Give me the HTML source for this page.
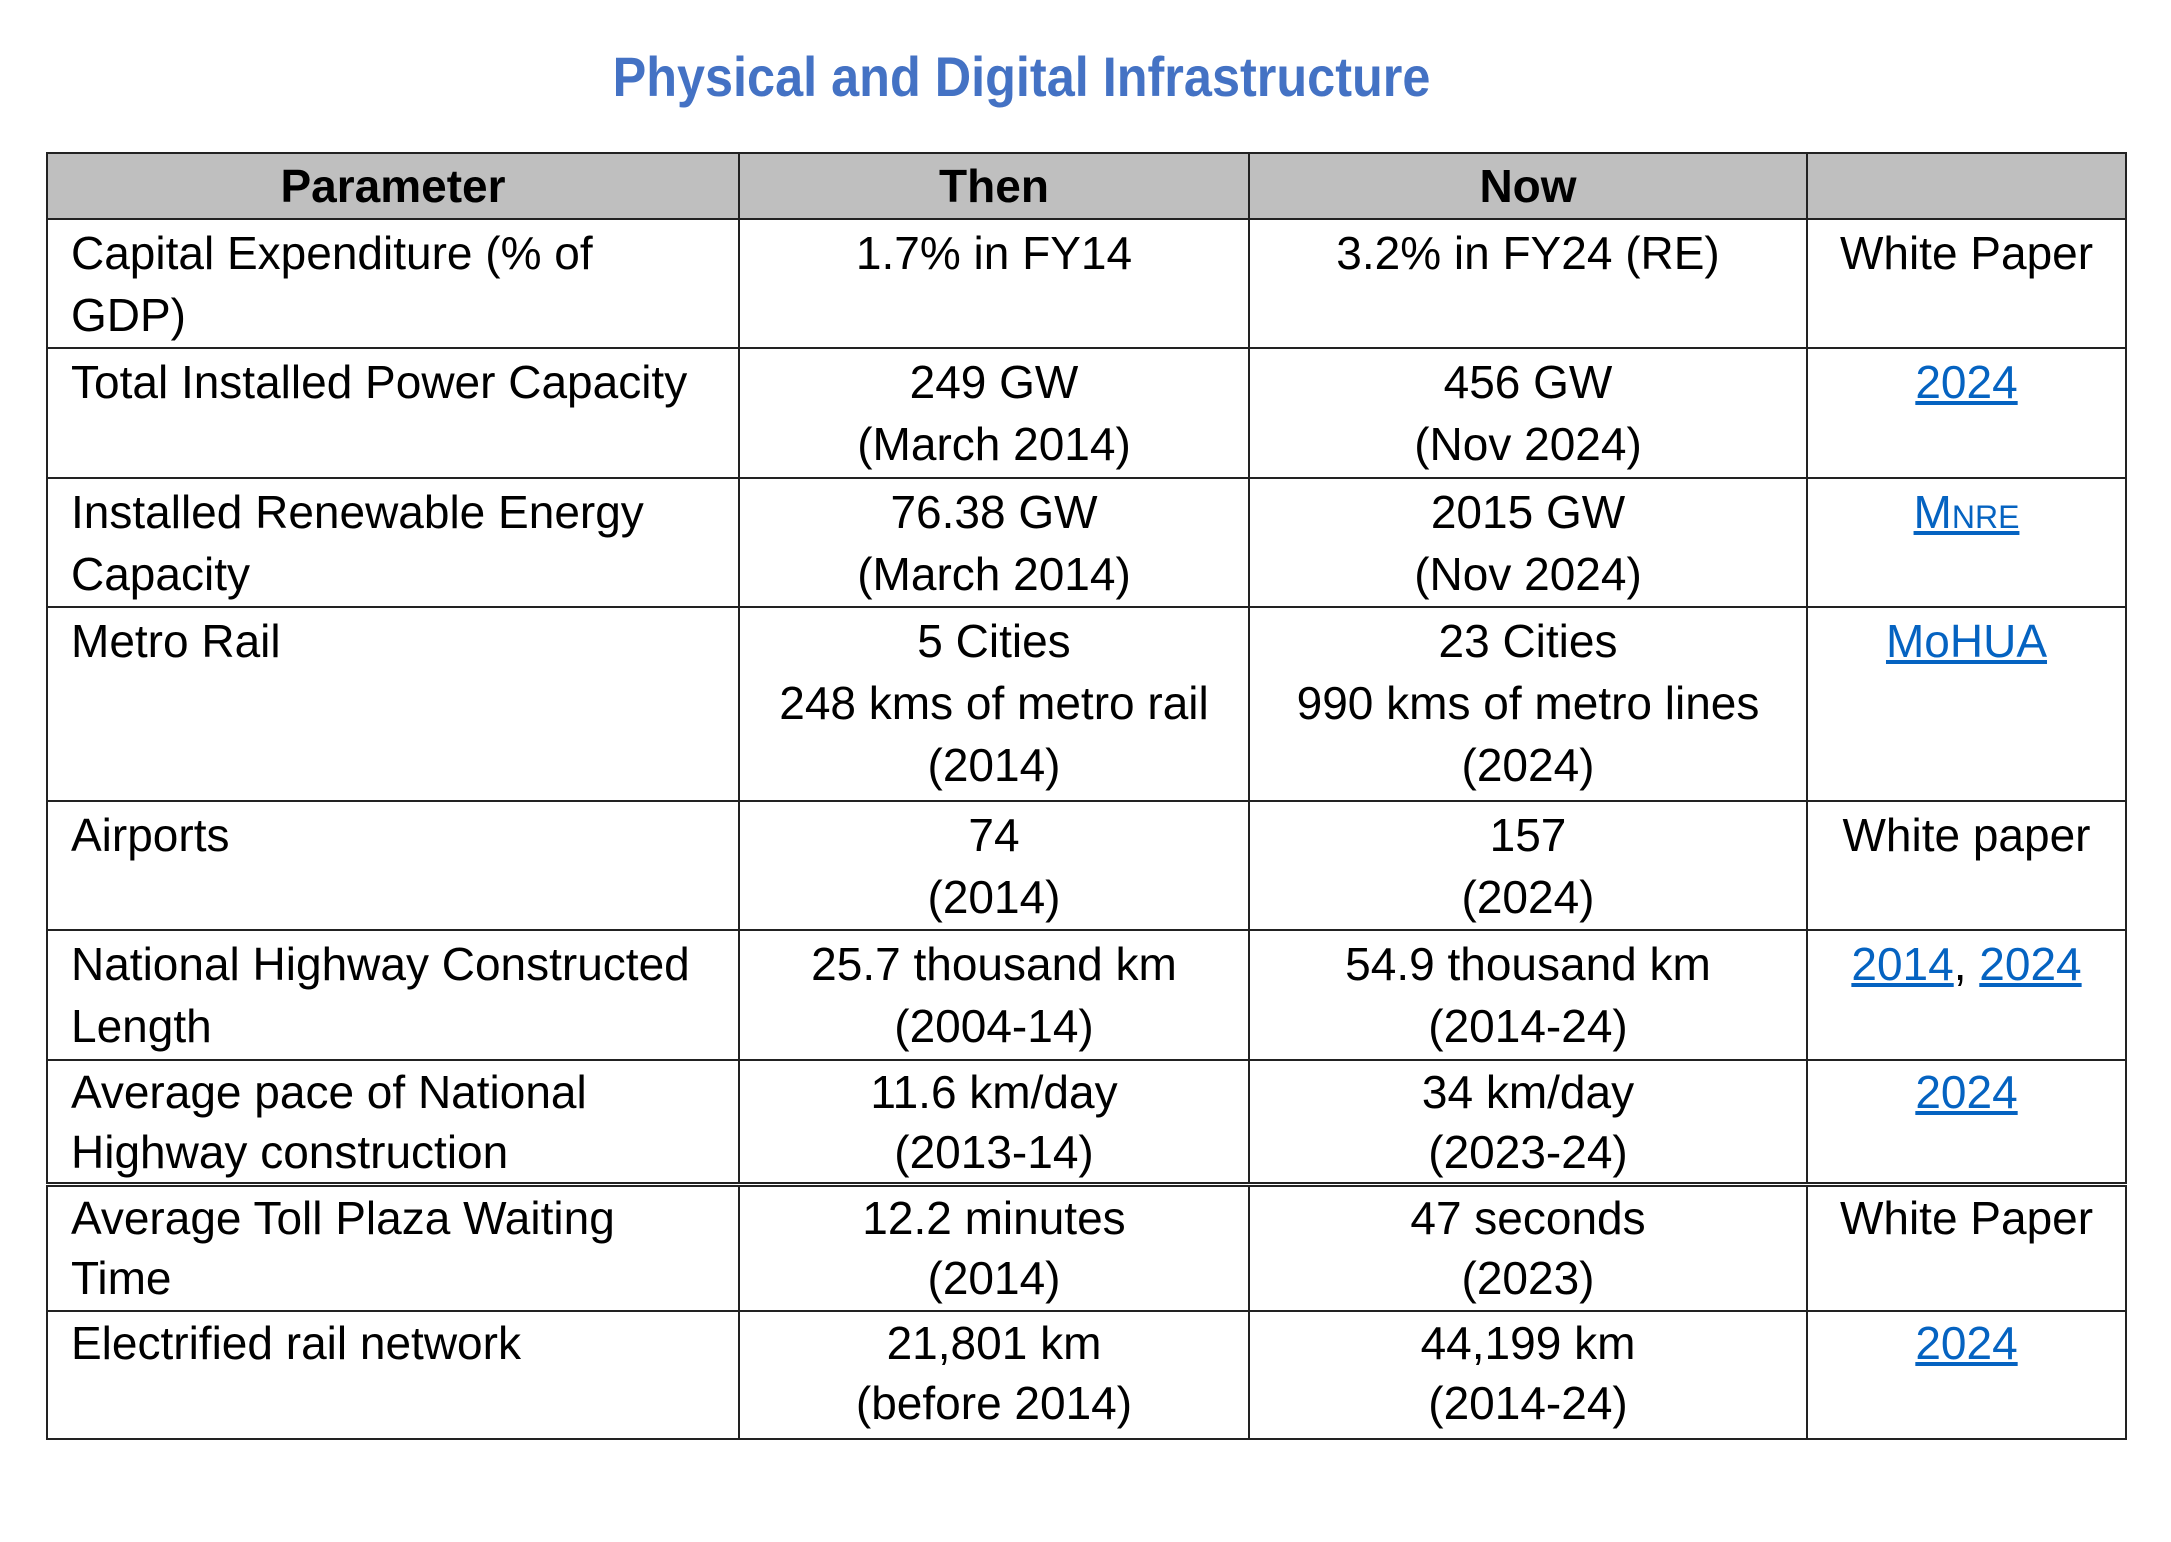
<!DOCTYPE html>
<html><head><meta charset="utf-8"><style>
html,body{margin:0;padding:0;background:#fff;width:2171px;height:1542px;overflow:hidden}
.twrap{position:absolute;left:0;top:0;width:2412px;transform:scaleX(0.9);transform-origin:0 0}
.title{position:absolute;top:44px;left:0;width:2270px;text-align:center;font:bold 56px "Liberation Sans",sans-serif;color:#4472C4}
table{position:absolute;left:46px;top:152px;border-collapse:collapse;table-layout:fixed;font:46px "Liberation Sans",sans-serif;color:#000}
td,th{border:2px solid #222;padding:0;vertical-align:top;line-height:62px;text-align:center;white-space:nowrap;box-sizing:border-box}
td{padding-top:2px}
tr.t td{line-height:60px;padding-top:1px}
th{background:#BFBFBF;font-weight:bold;vertical-align:middle;padding:0}
td:first-child{text-align:left;padding-left:23px}
a{color:#0563C1;text-decoration:underline}
.sc{font-variant:small-caps}
tr.dbl td{border-top:5px double #222}
</style></head><body>
<div class="twrap"><div class="title">Physical and Digital Infrastructure</div></div>
<table>
<colgroup><col style="width:692px"><col style="width:510px"><col style="width:558px"><col style="width:319px"></colgroup>
<tr style="height:66px"><th>Parameter</th><th>Then</th><th>Now</th><th></th></tr>
<tr style="height:129px"><td>Capital Expenditure (% of<br>GDP)</td><td>1.7% in FY14</td><td>3.2% in FY24 (RE)</td><td>White Paper</td></tr>
<tr style="height:130px"><td>Total Installed Power Capacity</td><td>249 GW<br>(March 2014)</td><td>456 GW<br>(Nov 2024)</td><td><a>2024</a></td></tr>
<tr style="height:129px"><td>Installed Renewable Energy<br>Capacity</td><td>76.38 GW<br>(March 2014)</td><td>2015 GW<br>(Nov 2024)</td><td><a class="sc">Mnre</a></td></tr>
<tr style="height:194px"><td>Metro Rail</td><td>5 Cities<br>248 kms of metro rail<br>(2014)</td><td>23 Cities<br>990 kms of metro lines<br>(2024)</td><td><a>MoHUA</a></td></tr>
<tr style="height:129px"><td>Airports</td><td>74<br>(2014)</td><td>157<br>(2024)</td><td>White paper</td></tr>
<tr style="height:130px"><td>National Highway Constructed<br>Length</td><td>25.7 thousand km<br>(2004-14)</td><td>54.9 thousand km<br>(2014-24)</td><td><a>2014</a>, <a>2024</a></td></tr>
<tr class="t" style="height:124px"><td>Average pace of National<br>Highway construction</td><td>11.6 km/day<br>(2013-14)</td><td>34 km/day<br>(2023-24)</td><td><a>2024</a></td></tr>
<tr class="dbl t" style="height:126px"><td>Average Toll Plaza Waiting<br>Time</td><td>12.2 minutes<br>(2014)</td><td>47 seconds<br>(2023)</td><td>White Paper</td></tr>
<tr class="t" style="height:128px"><td>Electrified rail network</td><td>21,801 km<br>(before 2014)</td><td>44,199 km<br>(2014-24)</td><td><a>2024</a></td></tr>
</table>
</body></html>
